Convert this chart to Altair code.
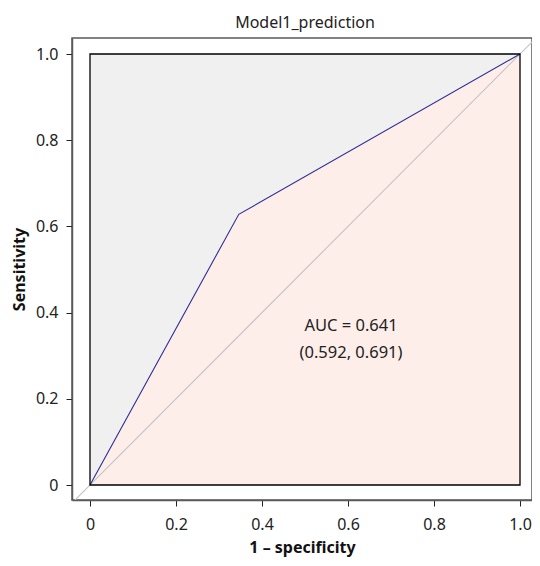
import altair as alt
import pandas as pd

# ROC curve points
fpr = [0.0, 0.346, 1.0]
tpr = [0.0, 0.628, 1.0]
diag = [-0.06, 1.06]
ticks = [0, 0.2, 0.4, 0.6, 0.8, 1.0]
auc_lines = ["AUC = 0.641", "(0.592, 0.691)"]

roc = pd.DataFrame({"x": fpr, "y": tpr, "y0": [0.0] * len(fpr)})
diag_df = pd.DataFrame({"x": diag, "y": diag})
box = pd.DataFrame({"x": [0.0], "x2": [1.0], "y": [0.0], "y2": [1.0]})
txt = pd.DataFrame({"x": [0.607], "y": [0.369], "t": [auc_lines]})

FONT = "Noto Sans"
W, H = 460, 462
PXX = 430.0
PXY = 431.0
xdom = [-18 / PXX, (W - 18) / PXX]
ydom = [-15 / PXY, (H - 15) / PXY]

xs = alt.Scale(domain=xdom, nice=False, zero=False)
ys = alt.Scale(domain=ydom, nice=False, zero=False)
fmt = "datum.value == 0 ? '0' : format(datum.value, '.1f')"
xaxis = alt.Axis(values=ticks, title="1 – specificity", grid=False, labelExpr=fmt)
yaxis = alt.Axis(values=ticks, title="Sensitivity", grid=False, labelExpr=fmt)

bg = alt.Chart(box).mark_rect(color="#f0f0f0").encode(
    x=alt.X("x:Q", scale=xs, axis=xaxis), x2="x2",
    y=alt.Y("y:Q", scale=ys, axis=yaxis), y2="y2")

area = alt.Chart(roc).mark_area(color="#fdeeea", opacity=1).encode(
    x=alt.X("x:Q", scale=xs), y=alt.Y("y:Q", scale=ys), y2="y0")

diag_line = alt.Chart(diag_df).mark_line(color="#c4c4c4", strokeWidth=1.1, clip=True).encode(
    x=alt.X("x:Q", scale=xs), y=alt.Y("y:Q", scale=ys))

roc_line = alt.Chart(roc).mark_line(color="#2e2e96", strokeWidth=1.1).encode(
    x=alt.X("x:Q", scale=xs), y=alt.Y("y:Q", scale=ys))

frame = alt.Chart(box).mark_rect(fillOpacity=0, stroke="black", strokeWidth=1.3).encode(
    x=alt.X("x:Q", scale=xs), x2="x2", y=alt.Y("y:Q", scale=ys), y2="y2")

label = alt.Chart(txt).mark_text(font=FONT, fontSize=16.5, color="#222", lineHeight=27,
                                 align="center", baseline="middle").encode(
    x=alt.X("x:Q", scale=xs), y=alt.Y("y:Q", scale=ys), text="t")

chart = alt.layer(bg, area, diag_line, roc_line, frame, label).properties(
    width=W, height=H,
    title=alt.TitleParams("Model1_prediction", font=FONT, fontSize=16, fontWeight="normal",
                          color="#222", offset=7, dx=3),
    autosize=alt.AutoSizeParams(type="none"),
    padding={"left": 64, "top": 30, "right": 0, "bottom": 58},
).configure_view(stroke="#5a5a5a", strokeWidth=1.5).configure_axis(
    labelFont=FONT, titleFont=FONT, labelFontSize=16, titleFontSize=16,
    titleFontWeight="bold", labelColor="#222", titleColor="#111",
    domainColor="#5a5a5a", domainWidth=1.5, tickColor="#222", tickSize=6,
).configure_axisY(titlePadding=8, labelPadding=8).configure_axisX(titlePadding=7, labelPadding=10)

chart.save("out.html", embed_options={"renderer": "svg", "actions": False})
